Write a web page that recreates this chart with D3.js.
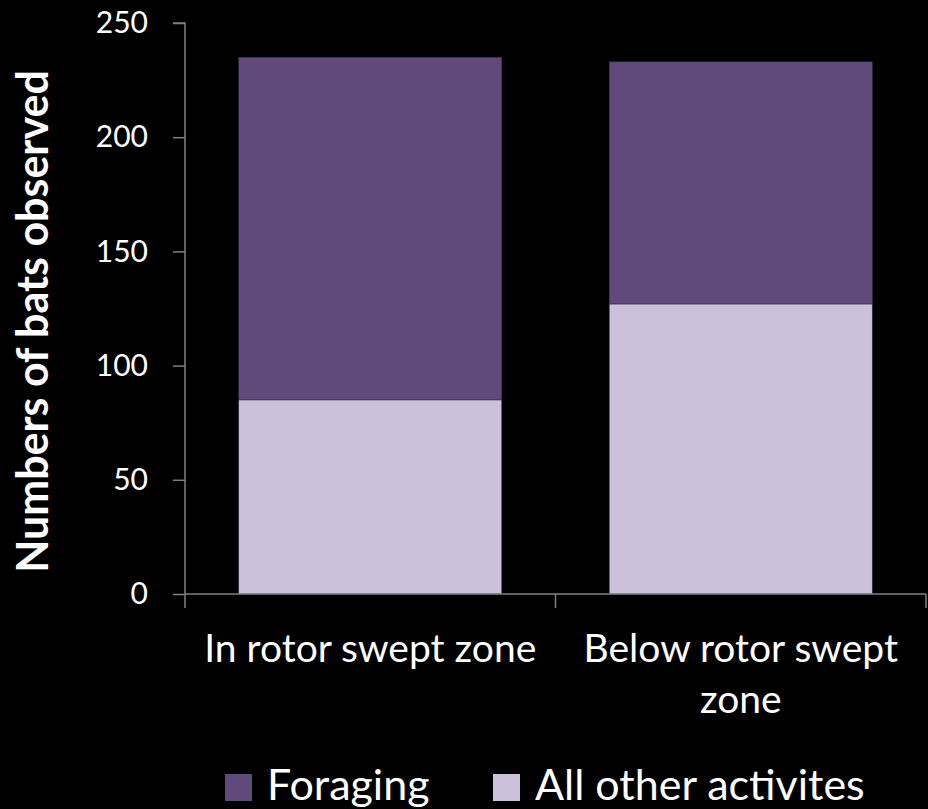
<!DOCTYPE html>
<html>
<head>
<meta charset="utf-8">
<script src="https://cdn.jsdelivr.net/npm/d3@7"></script>
<style>
html,body{margin:0;padding:0;background:#000;}
svg{display:block;}
text{font-family:Lato,"Open Sans",sans-serif;fill:#fff;}
</style>
</head>
<body>
<svg id="chart" width="928" height="809"></svg>
<script>
const categories = ["In rotor swept zone", "Below rotor swept zone"];
const categoryLines = [["In rotor swept zone"], ["Below rotor swept", "zone"]];
const seriesNames = ["All other activites", "Foraging"];
const otherValues = [85, 127];
const foragingValues = [150, 106];
const yTicks = [0, 50, 100, 150, 200, 250];
const legendNames = ["Foraging", "All other activites"];
const colors = {"Foraging": "#604A7B", "All other activites": "#CCC1DA"};

const svg = d3.select("#chart");
const x0 = 185, x1 = 926, yBottom = 594, yTop = 23;

const x = d3.scaleBand().domain(categories).range([x0, x1]).paddingInner(0.29).paddingOuter(0.145);
const y = d3.scaleLinear().domain([0, 250]).range([yBottom, yTop]);

const table = categories.map((c, i) => ({cat: c, "All other activites": otherValues[i], "Foraging": foragingValues[i]}));
const stacked = d3.stack().keys(seriesNames)(table);

svg.append("g").selectAll("g").data(stacked).join("g")
  .attr("fill", d => colors[d.key])
  .selectAll("rect").data(d => d).join("rect")
  .attr("x", d => x(d.data.cat))
  .attr("width", x.bandwidth())
  .attr("y", d => y(d[1]))
  .attr("height", d => y(d[0]) - y(d[1]))
  .attr("stroke", "#3a2d4c").attr("stroke-width", 0.6);

// Y axis
const yAxis = d3.axisLeft(y).tickValues(yTicks).tickSize(12).tickPadding(25);
const gy = svg.append("g").attr("transform", `translate(${x0},0)`).call(yAxis);
gy.select(".domain").attr("stroke", "#808080").attr("stroke-width", 1.5).attr("d", `M-12,${yTop}H0V${yBottom + 14}`);
gy.selectAll(".tick line").attr("stroke", "#808080").attr("stroke-width", 1.5);
gy.selectAll(".tick text").attr("fill", "#fff").style("font-size", "30px").style("font-family", "Lato, sans-serif");

// X axis line & ticks
const gx = svg.append("g");
gx.append("line").attr("x1", x0).attr("x2", x1).attr("y1", yBottom).attr("y2", yBottom)
  .attr("stroke", "#808080").attr("stroke-width", 1.5);
const boundaries = [x0 + x.step(), x1];
gx.selectAll("line.t").data(boundaries).join("line").attr("class", "t")
  .attr("x1", d => d).attr("x2", d => d).attr("y1", yBottom).attr("y2", yBottom + 14)
  .attr("stroke", "#808080").attr("stroke-width", 1.5);

// category labels
categories.forEach((c, i) => {
  const cx = x(c) + x.bandwidth() / 2;
  categoryLines[i].forEach((ln, j) => {
    svg.append("text").attr("x", cx).attr("y", 662 + j * 51)
      .attr("text-anchor", "middle").style("font-size", "39px").text(ln);
  });
});

// Y title
svg.append("text")
  .attr("transform", `translate(48,${(yTop + yBottom) / 2 + 13}) rotate(-90)`)
  .attr("text-anchor", "middle").style("font-size", "43px").style("font-weight", "bold")
  .text("Numbers of bats observed");

// Legend
const legendX = [225, 493];
legendNames.forEach((name, i) => {
  svg.append("rect").attr("x", legendX[i]).attr("y", 774).attr("width", 27).attr("height", 27).attr("fill", colors[name]);
  svg.append("text").attr("x", legendX[i] + 42).attr("y", 800).style("font-size", "43px").text(name);
});
</script>
</body>
</html>
